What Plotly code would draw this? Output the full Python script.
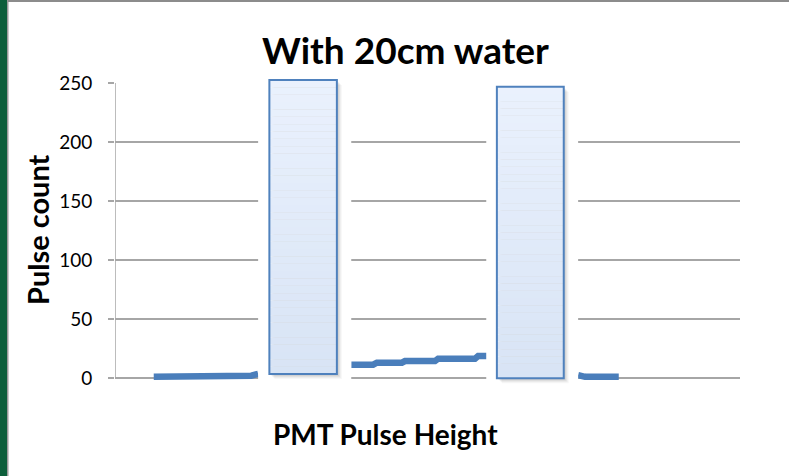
import plotly.graph_objects as go

# Pulse-height spectrum (channel units along x, counts along y).
# None separates the visible stretches of the trace.
channel = [6.2, 18.2, 19.5, 21.8, 22.9, None,
           37.8, 41.3, 41.9, 45.9, 46.4, 51.2, 51.7, 57.6, 58.1, 59.5, None,
           74.1, 75.2, 80.6]
pulse_count = [1, 1, 2, 2, 3.5, None,
               11.3, 11.3, 13, 13, 14.4, 14.4, 16.4, 16.4, 18.6, 18.6, None,
               2.5, 1, 1]

y_ticks = [0, 50, 100, 150, 200, 250]

# Overlay panels (channel span, count span)
panels = [
    {"x": (24.7, 35.5), "y": (3.4, 252.5), "clear": (22.9, 37.8)},
    {"x": (61.1, 71.8), "y": (-0.25, 246.9), "clear": (59.4, 74.1)},
]

W, H = 789, 476
L, R, T, B = 115, 740, 83, 383
X_RANGE = [0, 100]
Y_RANGE = [-250 * 5 / 295, 250]


def px_x(px):
    return (px - L) / (R - L)


def px_y(py):
    return (B - py) / (B - T)


def dx(v):
    return (v - X_RANGE[0]) / (X_RANGE[1] - X_RANGE[0])


def dy(v):
    return (v - Y_RANGE[0]) / (Y_RANGE[1] - Y_RANGE[0])


GRID = "#a6a6a6"
FONT = "Lato"

fig = go.Figure()
fig.add_trace(go.Scatter(
    x=channel, y=pulse_count, mode="lines", connectgaps=False,
    line=dict(color="#4a7ebb", width=6.5), hoverinfo="skip", showlegend=False,
))

shapes = []
# y axis line
shapes.append(dict(type="line", xref="x", yref="y", x0=0, x1=0, y0=0, y1=250,
                   line=dict(color=GRID, width=1.5), layer="below"))

for p in panels:
    cx0, cx1 = p["clear"]
    shapes.append(dict(type="rect", xref="paper", yref="paper",
                       x0=dx(cx0), x1=dx(cx1), y0=dy(-9), y1=dy(258),
                       fillcolor="white", line=dict(width=0), layer="above"))
    x0, x1 = dx(p["x"][0]), dx(p["x"][1])
    y0, y1 = dy(p["y"][0]), dy(p["y"][1])
    # soft drop shadow
    for k, a in [(5, 0.03), (4, 0.04), (3, 0.05), (2, 0.06)]:
        shapes.append(dict(type="rect", xref="paper", yref="paper",
                           x0=x0 + k / (R - L), x1=x1 + k / (R - L),
                           y0=y0 - k / (B - T), y1=y1 - k / (B - T),
                           fillcolor=f"rgba(0,0,0,{a})", line=dict(width=0), layer="above"))
    # vertical gradient fill
    n = 40
    top_c, bot_c = (234, 241, 253), (216, 228, 245)
    for i in range(n):
        t = (i + 0.5) / n
        c = tuple(round(top_c[j] + (bot_c[j] - top_c[j]) * t) for j in range(3))
        ya = y1 - (y1 - y0) * i / n
        yb = y1 - (y1 - y0) * (i + 1) / n
        shapes.append(dict(type="rect", xref="paper", yref="paper",
                           x0=x0, x1=x1, y0=yb, y1=ya,
                           fillcolor=f"rgb{c}", line=dict(width=0), layer="above"))
    shapes.append(dict(type="rect", xref="paper", yref="paper",
                       x0=x0, x1=x1, y0=y0, y1=y1,
                       line=dict(color="#4f81bd", width=2), layer="above"))

# window frame: green strip on the left, grey rule on top
shapes.append(dict(type="rect", xref="paper", yref="paper",
                   x0=px_x(0), x1=px_x(7), y0=px_y(H), y1=px_y(0),
                   fillcolor="#0d5f3b", line=dict(width=0), layer="above"))
shapes.append(dict(type="rect", xref="paper", yref="paper",
                   x0=px_x(7), x1=px_x(8.5), y0=px_y(H), y1=px_y(0),
                   fillcolor="#9a9a9a", line=dict(width=0), layer="above"))
shapes.append(dict(type="rect", xref="paper", yref="paper",
                   x0=px_x(8), x1=px_x(W), y0=px_y(2), y1=px_y(0),
                   fillcolor="#8c8c8c", line=dict(width=0), layer="above"))

annotations = [
    dict(text="<b>With 20cm water</b>", xref="paper", yref="paper",
         x=px_x(405), y=px_y(49), showarrow=False,
         font=dict(family=FONT, size=37, color="black"), xanchor="center", yanchor="middle"),
    dict(text="<b>Pulse count</b>", xref="paper", yref="paper",
         x=px_x(37), y=px_y(230), showarrow=False, textangle=-90,
         font=dict(family=FONT, size=29, color="black"), xanchor="center", yanchor="middle"),
    dict(text="<b>PMT Pulse Height</b>", xref="paper", yref="paper",
         x=px_x(385), y=px_y(434), showarrow=False,
         font=dict(family=FONT, size=28, color="black"), xanchor="center", yanchor="middle"),
]

fig.update_layout(
    width=W, height=H,
    margin=dict(l=L, r=W - R, t=T, b=H - B, pad=0),
    paper_bgcolor="white", plot_bgcolor="white",
    shapes=shapes, annotations=annotations,
    xaxis=dict(range=X_RANGE, showgrid=False, zeroline=False, showline=False,
               showticklabels=False, ticks=""),
    yaxis=dict(range=Y_RANGE, tickvals=y_ticks, ticktext=[str(v) for v in y_ticks],
               showgrid=True, gridcolor=GRID, gridwidth=1.5,
               zeroline=True, zerolinecolor=GRID, zerolinewidth=1.5,
               showline=False, ticks="outside", ticklen=6, tickcolor=GRID, tickwidth=1.5,
               ticklabelstandoff=12,
               tickfont=dict(family=FONT, size=19, color="black")),
    showlegend=False,
)

fig.write_html("out.html")
